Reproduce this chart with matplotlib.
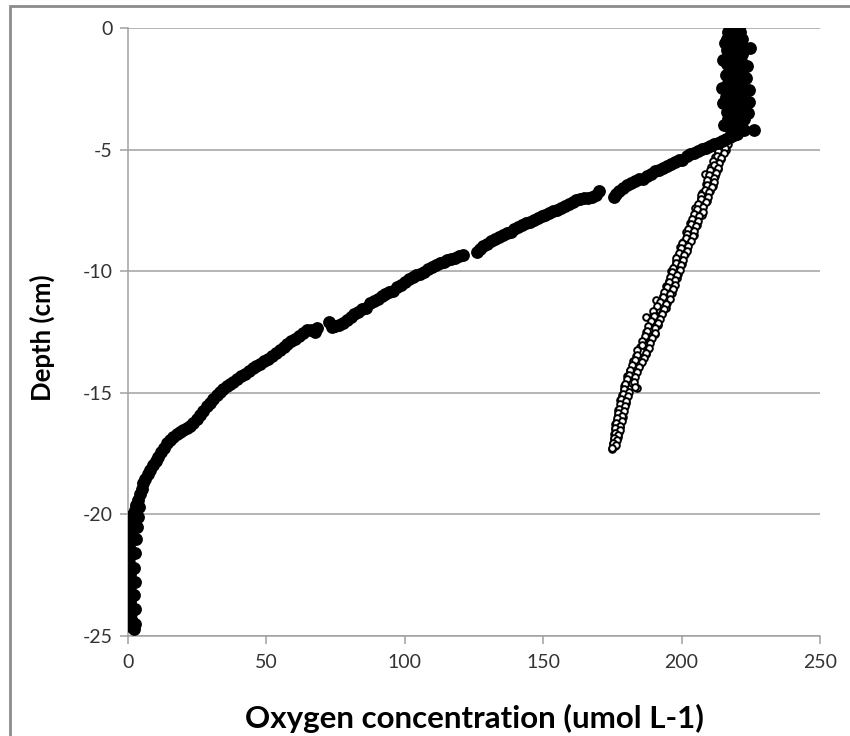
import matplotlib
matplotlib.use("Agg")
import matplotlib.pyplot as plt
from matplotlib.patches import Rectangle

plt.rcParams["font.family"] = ["Lato", "DejaVu Sans"]
plt.rcParams["axes.unicode_minus"] = False

# core 1: filled markers (surface plateau then steep decline)
core1_o2 = [
    217.4, 220.6, 216.8, 221.2, 217.9, 220.1, 216.5, 221.8, 217.2, 220.4,
    218.0, 221.5, 216.3, 220.9, 217.5, 222.0, 216.9, 220.3, 217.6, 221.4,
    216.4, 220.8, 217.8, 221.9, 217.0, 220.5, 216.2, 221.1, 217.3, 222.2,
    216.7, 220.7, 217.9, 221.6, 216.6, 220.2, 217.1, 221.3, 216.0, 220.9,
    217.4, 222.1, 216.8, 220.4, 217.6, 221.7, 216.3, 220.6, 217.0, 221.2,
    216.9, 222.4, 217.5, 220.8, 216.6, 221.5, 217.8, 222.6,
    224.6, 223.8, 223.2, 224.3, 224.5, 223.9, 226.0, 214.8, 214.6, 214.9,
    215.2, 215.5, 220.0,
    219.0, 217.5, 216.0, 214.6, 213.2, 211.8, 210.3, 208.9, 207.5, 206.0,
    204.6, 203.2, 201.8, 200.3, 198.9, 197.5, 196.0, 194.6, 193.2, 191.8,
    190.3, 188.9, 187.5, 186.0, 184.6, 183.2, 181.8, 180.3, 178.9, 177.5,
    176.2, 175.6,
    170.2, 169.0, 167.6, 166.2, 164.8, 163.4, 162.0, 160.6, 159.2, 157.8,
    156.4, 155.0, 153.6, 152.2, 150.8, 149.4, 148.0, 146.6, 145.2, 143.8,
    142.4, 141.0, 139.6, 138.2, 136.8, 135.4, 134.0, 132.6, 131.2, 129.8,
    128.4, 127.0, 126.0,
    121.0, 119.6, 118.2, 116.8, 115.4, 114.0, 112.6, 111.2, 109.8, 108.4,
    107.0, 105.6, 104.2, 102.8, 101.4, 100.0, 98.6, 97.2, 95.8, 94.4,
    93.0, 91.6, 90.2, 88.8, 87.4, 86.0, 84.6, 83.2, 81.8, 80.4,
    79.0, 77.6, 76.2, 74.8, 73.8, 72.5,
    68.3, 67.4, 66.0, 64.6, 63.2, 61.8, 60.4, 59.0, 57.6, 56.2,
    54.8, 53.4, 52.0, 50.6, 49.2, 47.8, 46.4, 45.0, 43.6, 42.2,
    40.8, 39.4, 38.0, 36.8, 35.6, 34.4, 33.2, 32.0, 30.8, 29.6,
    28.4, 27.2, 26.0, 24.8, 23.6, 22.4, 21.2, 20.0, 18.8, 17.6,
    16.4, 15.2, 14.0, 13.0, 12.0, 11.0, 10.0, 9.0, 7.9, 7.1,
    6.3, 5.5, 4.9, 4.3, 3.7, 3.0, 2.4, 1.9, 1.5, 1.2,
    1.0, 0.8, 0.6, 0.5, 0.4, 0.4, 0.4, 0.5, 0.6, 0.7,
    0.7, 0.7, 0.7, 0.8, 0.9, 1.0, 1.2, 1.3, 1.4,
    3.8, 3.5, 3.2, 2.8, 2.6, 2.2, 2.5, 2.1, 2.4, 2.6, 2.0,
]
core1_depth = [
    0.00, 0.00, -0.15, -0.15, -0.30, -0.30, -0.45, -0.45, -0.60, -0.60,
    -0.75, -0.75, -0.90, -0.90, -1.05, -1.05, -1.20, -1.20, -1.35, -1.35,
    -1.50, -1.50, -1.65, -1.65, -1.80, -1.80, -1.95, -1.95, -2.10, -2.10,
    -2.25, -2.25, -2.40, -2.40, -2.55, -2.55, -2.70, -2.70, -2.85, -2.85,
    -3.00, -3.00, -3.15, -3.15, -3.30, -3.30, -3.45, -3.45, -3.60, -3.60,
    -3.75, -3.75, -3.90, -3.90, -4.05, -4.05, -4.20, -4.20,
    -0.82, -1.55, -2.05, -2.55, -3.04, -3.50, -4.20, -1.32, -2.47, -3.10,
    -4.00, -0.60, -4.35,
    -4.42, -4.50, -4.58, -4.66, -4.73, -4.79, -4.86, -4.92, -4.98, -5.05,
    -5.12, -5.19, -5.27, -5.41, -5.44, -5.52, -5.60, -5.68, -5.77, -5.85,
    -5.88, -6.00, -6.07, -6.19, -6.21, -6.29, -6.37, -6.47, -6.58, -6.70,
    -6.82, -6.93,
    -6.72, -6.86, -6.96, -6.99, -7.01, -7.04, -7.09, -7.17, -7.25, -7.32,
    -7.40, -7.48, -7.54, -7.60, -7.67, -7.74, -7.81, -7.88, -7.99, -8.02,
    -8.10, -8.19, -8.28, -8.40, -8.44, -8.52, -8.60, -8.68, -8.77, -8.87,
    -8.98, -9.10, -9.20,
    -9.33, -9.39, -9.44, -9.50, -9.55, -9.61, -9.68, -9.76, -9.84, -9.93,
    -10.02, -10.10, -10.17, -10.23, -10.32, -10.44, -10.56, -10.66, -10.81, -10.84,
    -10.93, -11.03, -11.13, -11.23, -11.32, -11.50, -11.55, -11.67, -11.78, -11.89,
    -12.00, -12.12, -12.20, -12.26, -12.30, -12.10,
    -12.34, -12.52, -12.40, -12.43, -12.53, -12.65, -12.77, -12.89, -13.01, -13.13,
    -13.25, -13.37, -13.49, -13.61, -13.71, -13.80, -13.90, -14.00, -14.10, -14.21,
    -14.32, -14.43, -14.54, -14.64, -14.74, -14.85, -14.98, -15.11, -15.25, -15.40,
    -15.56, -15.74, -15.92, -16.08, -16.25, -16.35, -16.44, -16.52, -16.60, -16.68,
    -16.82, -16.95, -17.08, -17.27, -17.45, -17.62, -17.80, -17.98, -18.17, -18.35,
    -18.53, -18.72, -18.95, -19.18, -19.41, -19.60, -19.80, -19.98, -20.20, -20.42,
    -20.64, -20.87, -21.10, -21.33, -21.55, -21.78, -22.01, -22.24, -22.47, -22.70,
    -22.93, -23.15, -23.38, -23.61, -23.84, -24.07, -24.30, -24.50, -24.65,
    -19.70, -20.10, -20.50, -21.00, -21.60, -22.20, -22.80, -23.30, -23.90, -24.50, -24.70,
]

# core 2: open markers, two passes of the profile
core2_depth = [
    -4.6, -4.7, -4.8, -4.9, -5.0, -5.1, -5.2, -5.3, -5.4, -5.5,
    -5.6, -5.7, -5.8, -5.9, -6.0, -6.1, -6.2, -6.3, -6.4, -6.5,
    -6.6, -6.7, -6.8, -6.9, -7.0, -7.1, -7.2, -7.3, -7.4, -7.5,
    -7.6, -7.7, -7.8, -7.9, -8.0, -8.1, -8.2, -8.3, -8.4, -8.5,
    -8.6, -8.7, -8.8, -8.9, -9.0, -9.1, -9.2, -9.3, -9.4, -9.5,
    -9.6, -9.7, -9.8, -9.9, -10.0, -10.1, -10.2, -10.3, -10.4, -10.5,
    -10.6, -10.7, -10.8, -10.9, -11.0, -11.1, -11.2, -11.3, -11.4, -11.5,
    -11.6, -11.7, -11.8, -11.9, -12.0, -12.1, -12.2, -12.3, -12.4, -12.5,
    -12.6, -12.7, -12.8, -12.9, -13.0, -13.1, -13.2, -13.3, -13.4, -13.5,
    -13.6, -13.7, -13.8, -13.9, -14.0, -14.1, -14.2, -14.3, -14.4, -14.5,
    -14.6, -14.7, -14.8, -14.9, -15.0, -15.1, -15.2, -15.3, -15.4, -15.5,
    -15.6, -15.7, -15.8, -15.9, -16.0, -16.1, -16.2, -16.3, -16.4, -16.5,
    -16.6, -16.7, -16.8, -16.9, -17.0, -17.1, -17.2, -17.3,
]
core2_o2 = [
    216.6, 214.7, 216.5, 214.3, 216.0, 213.1, 214.1, 212.1, 214.1, 212.2,
    213.3, 210.5, 213.1, 210.9, 208.5, 212.1, 209.6, 211.1, 208.8, 211.3,
    209.1, 210.3, 207.5, 209.2, 207.0, 209.2, 206.7, 207.9, 204.9, 207.5,
    205.6, 207.2, 204.2, 205.4, 203.2, 205.5, 203.1, 204.2, 201.7, 204.4,
    202.0, 203.1, 200.6, 202.2, 199.5, 202.0, 200.0, 201.1, 198.4, 199.9,
    198.0, 200.1, 197.6, 198.9, 196.2, 198.7, 196.8, 198.3, 195.5, 197.1,
    194.4, 196.8, 194.8, 196.5, 193.4, 194.8, 190.6, 194.7, 191.9, 194.4,
    191.8, 193.0, 189.6, 187.2, 191.5, 189.4, 191.4, 188.3, 189.7, 187.3,
    190.3, 187.5, 189.0, 186.0, 187.8, 184.8, 187.7, 185.4, 187.2, 183.7,
    185.5, 182.6, 185.0, 182.6, 184.4, 181.4, 182.8, 180.4, 182.6, 180.6,
    182.2, 179.3, 183.9, 179.2, 180.8, 178.4, 179.8, 177.8, 179.8, 178.0,
    179.3, 177.1, 178.7, 177.0, 178.7, 176.6, 177.9, 176.1, 177.8, 176.1,
    177.3, 175.6, 176.9, 175.4, 176.4, 175.1, 176.0, 175.0,
]
core2b_depth = [
    -4.65, -4.75, -4.85, -4.95, -5.05, -5.15, -5.25, -5.35, -5.45, -5.55,
    -5.65, -5.75, -5.85, -5.95, -6.05, -6.15, -6.25, -6.35, -6.45, -6.55,
    -6.65, -6.75, -6.85, -6.95, -7.05, -7.15, -7.25, -7.35, -7.45, -7.55,
    -7.65, -7.75, -7.85, -7.95, -8.05, -8.15, -8.25, -8.35, -8.45, -8.55,
    -8.65, -8.75, -8.85, -8.95, -9.05, -9.15, -9.25, -9.35, -9.45, -9.55,
    -9.65, -9.75, -9.85, -9.95, -10.05, -10.15, -10.25, -10.35, -10.45, -10.55,
    -10.65, -10.75, -10.85, -10.95, -11.05, -11.15, -11.25, -11.35, -11.45, -11.55,
    -11.65, -11.75, -11.85, -11.95, -12.05, -12.15, -12.25, -12.35, -12.45, -12.55,
    -12.65, -12.75, -12.85, -12.95, -13.05, -13.15, -13.25, -13.35, -13.45, -13.55,
    -13.65, -13.75, -13.85, -13.95, -14.05, -14.15, -14.25, -14.35, -14.45, -14.55,
    -14.65, -14.75, -14.85, -14.95, -15.05, -15.15, -15.25, -15.35, -15.45, -15.55,
    -15.65, -15.75, -15.85, -15.95, -16.05, -16.15, -16.25, -16.35, -16.45, -16.55,
    -16.65, -16.75, -16.85, -16.95, -17.05, -17.15, -17.25,
]
core2b_o2 = [
    214.8, 216.6, 213.9, 215.6, 213.0, 215.3, 212.7, 214.4, 211.5, 213.6,
    211.6, 213.3, 210.2, 212.6, 210.0, 211.8, 209.3, 211.6, 209.2, 211.0,
    208.3, 210.0, 207.1, 209.4, 207.0, 208.9, 205.9, 207.7, 205.4, 207.6,
    204.6, 206.2, 203.7, 206.1, 203.5, 205.3, 202.2, 204.4, 201.8, 204.1,
    201.5, 203.3, 200.3, 202.4, 199.9, 202.1, 198.9, 200.7, 198.1, 200.4,
    197.9, 199.8, 197.0, 199.3, 196.6, 198.5, 195.7, 197.7, 195.4, 197.7,
    194.8, 196.9, 193.7, 195.8, 193.2, 195.7, 192.3, 194.5, 191.2, 193.5,
    189.8, 192.9, 189.9, 192.2, 188.8, 191.3, 187.7, 190.5, 187.6, 190.3,
    186.9, 189.4, 185.8, 188.6, 185.7, 188.3, 183.8, 187.0, 183.8, 186.4,
    183.2, 185.7, 182.2, 184.6, 181.5, 183.8, 180.9, 183.0, 180.3, 182.8,
    179.5, 183.1, 179.1, 181.1, 178.7, 180.5, 178.0, 179.8, 177.7, 179.5,
    177.5, 179.2, 176.9, 178.6, 176.6, 178.4, 176.3, 177.9, 176.1, 177.6,
    175.8, 177.2, 175.4, 176.7, 175.2, 176.3, 175.0,
]

x_ticks = [0, 50, 100, 150, 200, 250]
y_ticks = [-25, -20, -15, -10, -5, 0]

fig = plt.figure(figsize=(8.5, 7.36), dpi=100)
ax = fig.add_axes([128 / 850, 1 - 636 / 736, 692 / 850, 608 / 736])

# chart area border (runs off the right and bottom edges)
fig.patches.append(Rectangle((10 / 850, -0.1), 1.2, 1 - 6 / 736 + 0.1,
                             transform=fig.transFigure, fill=False,
                             edgecolor="#8c8c8c", linewidth=2))

for xs, ys in [(core2_o2, core2_depth), (core2b_o2, core2b_depth)]:
    ax.plot(xs, ys, "o", ls="none", ms=4.8, mfc="white",
            mec="black", mew=1.4, zorder=3)
ax.plot(core1_o2, core1_depth, "o", ls="none", ms=8.2, color="black", zorder=4)

ax.set_xlim(0, 250)
ax.set_ylim(-25, 0)
ax.set_xticks(x_ticks)
ax.set_yticks(y_ticks)
ax.yaxis.grid(True, color="#a0a0a0", linewidth=1.1)
ax.set_axisbelow(True)
for s in ["top", "right"]:
    ax.spines[s].set_visible(False)
for s in ["left", "bottom"]:
    ax.spines[s].set_color("#a0a0a0")
    ax.spines[s].set_linewidth(1.1)
ax.tick_params(axis="both", colors="#a0a0a0", labelcolor="#333333",
               labelsize=14, length=6, width=1.1)
ax.tick_params(axis="y", pad=5)
ax.tick_params(axis="x", pad=7)

ax.set_xlabel("Oxygen concentration (umol L-1)", fontsize=22.5, fontweight="bold",
              va="center")
ax.xaxis.set_label_coords(0.5, (636 - 718) / 608)
ax.set_ylabel("Depth (cm)", fontsize=18.5, fontweight="bold", va="center")
ax.yaxis.set_label_coords((42 - 128) / 692, 0.49)

fig.savefig("out.png", dpi=100)
